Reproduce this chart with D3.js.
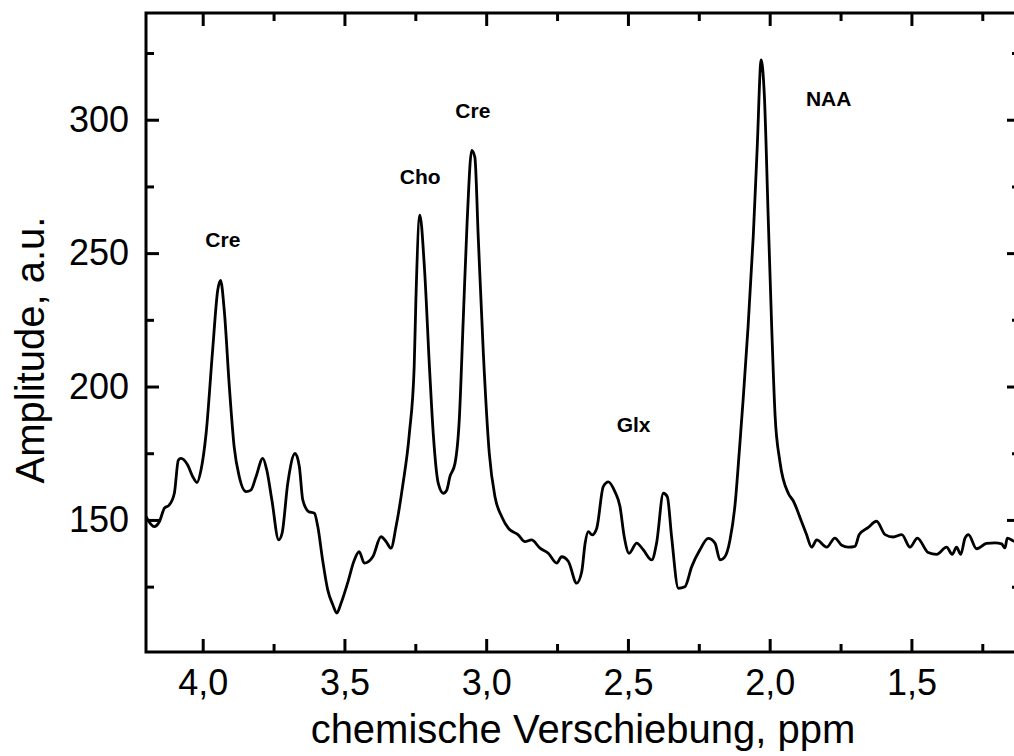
<!DOCTYPE html>
<html>
<head>
<meta charset="utf-8">
<script src="https://cdn.jsdelivr.net/npm/d3@7"></script>
<style>
  body { margin: 0; background: #fff; }
  text { font-family: "Liberation Sans", Arial, sans-serif; fill: #000; }
</style>
</head>
<body>
<div id="chart"></div>
<script>
// Spectrum (ppm, amplitude)
var ppm = [4.200, 4.171, 4.153, 4.135, 4.118, 4.100, 4.086, 4.077, 4.053, 4.035,
  4.020, 4.006, 3.988, 3.965, 3.947, 3.937, 3.924, 3.906, 3.889, 3.871,
  3.847, 3.830, 3.812, 3.788, 3.774, 3.756, 3.732, 3.720, 3.700, 3.674,
  3.659, 3.647, 3.626, 3.606, 3.594, 3.577, 3.559, 3.541, 3.527, 3.512,
  3.489, 3.465, 3.448, 3.430, 3.400, 3.371, 3.353, 3.336, 3.318, 3.295,
  3.271, 3.254, 3.248, 3.234, 3.218, 3.199, 3.186, 3.169, 3.151, 3.139,
  3.128, 3.110, 3.095, 3.081, 3.067, 3.051, 3.040, 3.028, 3.010, 2.989,
  2.969, 2.945, 2.922, 2.887, 2.863, 2.840, 2.810, 2.781, 2.751, 2.734,
  2.710, 2.681, 2.663, 2.651, 2.640, 2.626, 2.610, 2.587, 2.569, 2.546,
  2.528, 2.513, 2.496, 2.469, 2.446, 2.416, 2.399, 2.375, 2.361, 2.346,
  2.322, 2.299, 2.275, 2.246, 2.217, 2.193, 2.175, 2.158, 2.140, 2.122,
  2.107, 2.093, 2.076, 2.058, 2.044, 2.030, 2.019, 2.005, 1.993, 1.981,
  1.964, 1.934, 1.917, 1.887, 1.870, 1.852, 1.834, 1.799, 1.770, 1.746,
  1.723, 1.699, 1.684, 1.652, 1.623, 1.593, 1.564, 1.534, 1.505, 1.479,
  1.441, 1.411, 1.376, 1.356, 1.341, 1.326, 1.311, 1.299, 1.270, 1.235,
  1.205, 1.182, 1.170, 1.162, 1.138, 1.117];
var amplitude = [151.2, 147.5, 149.3, 154.4, 155.6, 160.0, 172.4, 173.1, 170.6, 166.2,
  164.0, 168.7, 182.4, 213.6, 236.1, 239.8, 228.6, 199.9, 177.4, 166.2,
  160.6, 161.2, 166.2, 173.1, 168.7, 157.5, 142.5, 145.0, 163.7, 174.9,
  169.9, 157.5, 153.1, 152.5, 147.5, 135.0, 123.8, 118.2, 115.1, 118.8,
  126.3, 135.0, 138.1, 133.8, 136.2, 143.7, 141.9, 139.4, 147.5, 162.5,
  182.4, 207.4, 232.3, 264.2, 244.8, 205.0, 181.2, 163.7, 160.0, 161.2,
  166.2, 171.2, 187.4, 224.9, 262.3, 288.5, 286.0, 256.0, 212.4, 174.9,
  158.7, 151.2, 146.9, 144.4, 141.9, 142.5, 139.4, 137.5, 133.8, 136.2,
  134.4, 126.3, 130.6, 141.3, 145.6, 144.4, 146.9, 162.5, 164.3, 160.6,
  155.0, 143.7, 137.5, 141.3, 138.8, 135.0, 141.3, 160.0, 158.7, 143.7,
  124.4, 125.0, 132.5, 138.8, 143.1, 141.3, 135.0, 136.2, 142.5, 155.9,
  175.9, 196.0, 222.7, 256.2, 289.6, 322.4, 309.6, 262.8, 222.7, 189.3,
  171.9, 159.9, 157.2, 149.2, 144.5, 139.8, 142.5, 139.8, 143.2, 140.5,
  139.8, 140.1, 144.5, 147.2, 149.5, 144.5, 143.6, 144.5, 139.8, 143.2,
  137.8, 137.1, 139.8, 137.1, 139.8, 137.1, 143.2, 144.5, 139.2, 141.2,
  141.4, 141.0, 139.5, 143.2, 142.0, 141.5];

// Peak labels
var peakNames = ["Cre", "Cho", "Cre", "Glx", "NAA"];
var peakPpm = [3.929, 3.233, 3.047, 2.480, 1.792];
var peakAmp = [252.3, 275.8, 300.5, 183.0, 305.0];

// Axis ticks
var xMajor = [4.0, 3.5, 3.0, 2.5, 2.0, 1.5];
var xMinor = [3.75, 3.25, 2.75, 2.25, 1.75, 1.25];
var yMajor = [150, 200, 250, 300];
var yMinor = [125, 175, 225, 275, 325];

var svgWidth = 1014;
var svgHeight = 756;
var margin = { top: 13, left: 146 };
var width = 874;
var height = 639;

var svg = d3.select("#chart")
  .append("svg")
  .attr("width", svgWidth)
  .attr("height", svgHeight);

var chartGroup = svg.append("g")
  .attr("transform", `translate(${margin.left}, ${margin.top})`);

var xScale = d3.scaleLinear().domain([4.2, 1.117]).range([0, width]);
var yScale = d3.scaleLinear().domain([100.5, 340]).range([height, 0]);

var comma = d3.formatLocale({ decimal: ",", thousands: ".", grouping: [3], currency: ["", ""] });

function styleAxis(g, w) {
  g.select(".domain").remove();
  g.selectAll("line").attr("stroke", "#000").attr("stroke-width", w);
  g.selectAll("text")
    .style("font-family", "'Liberation Sans', Arial, sans-serif")
    .style("font-size", "36px")
    .attr("fill", "#000");
}

// bottom axis, major + minor ticks pointing inward
chartGroup.append("g")
  .attr("transform", `translate(0, ${height})`)
  .call(d3.axisBottom(xScale).tickValues(xMajor).tickSize(-13).tickSizeOuter(0)
    .tickPadding(17).tickFormat(comma.format(".1f")))
  .call(styleAxis, 3);
chartGroup.append("g")
  .attr("transform", `translate(0, ${height})`)
  .call(d3.axisBottom(xScale).tickValues(xMinor).tickSize(-8).tickSizeOuter(0).tickFormat(""))
  .call(styleAxis, 3);

// top axis
chartGroup.append("g")
  .call(d3.axisTop(xScale).tickValues(xMajor).tickSize(-13).tickSizeOuter(0).tickFormat(""))
  .call(styleAxis, 3);
chartGroup.append("g")
  .call(d3.axisTop(xScale).tickValues(xMinor).tickSize(-8).tickSizeOuter(0).tickFormat(""))
  .call(styleAxis, 3);

// left axis
chartGroup.append("g")
  .call(d3.axisLeft(yScale).tickValues(yMajor).tickSize(-13).tickSizeOuter(0)
    .tickPadding(17).tickFormat(d3.format("d")))
  .call(styleAxis, 3);
chartGroup.append("g")
  .call(d3.axisLeft(yScale).tickValues(yMinor).tickSize(-8).tickSizeOuter(0).tickFormat(""))
  .call(styleAxis, 3);

// right axis
chartGroup.append("g")
  .attr("transform", `translate(${width}, 0)`)
  .call(d3.axisRight(yScale).tickValues(yMajor).tickSize(-13).tickSizeOuter(0).tickFormat(""))
  .call(styleAxis, 3);
chartGroup.append("g")
  .attr("transform", `translate(${width}, 0)`)
  .call(d3.axisRight(yScale).tickValues(yMinor).tickSize(-8).tickSizeOuter(0).tickFormat(""))
  .call(styleAxis, 3);

// frame
chartGroup.append("rect")
  .attr("x", 0)
  .attr("y", 0)
  .attr("width", width)
  .attr("height", height)
  .attr("fill", "none")
  .attr("stroke", "#000")
  .attr("stroke-width", 3);

// spectrum
var spectrum = ppm.map((p, i) => ({ ppm: p, amp: amplitude[i] }));
var line = d3.line()
  .x(d => xScale(d.ppm))
  .y(d => yScale(d.amp))
  .curve(d3.curveMonotoneX);

chartGroup.append("path")
  .datum(spectrum)
  .attr("d", line)
  .attr("fill", "none")
  .attr("stroke", "#000")
  .attr("stroke-width", 2.8)
  .attr("stroke-linejoin", "round");

// peak labels
chartGroup.selectAll(".peak")
  .data(peakNames)
  .enter()
  .append("text")
    .attr("class", "peak")
    .attr("x", (d, i) => xScale(peakPpm[i]))
    .attr("y", (d, i) => yScale(peakAmp[i]))
    .attr("text-anchor", "middle")
    .style("font-size", "21px")
    .style("font-weight", "bold")
    .text(d => d);

// axis titles
svg.append("text")
  .attr("x", margin.left + width / 2)
  .attr("y", 743)
  .attr("text-anchor", "middle")
  .style("font-size", "40px")
  .text("chemische Verschiebung, ppm");

svg.append("text")
  .attr("transform", "translate(44, 350) rotate(-90)")
  .attr("text-anchor", "middle")
  .style("font-size", "40px")
  .text("Amplitude, a.u.");
</script>
</body>
</html>
